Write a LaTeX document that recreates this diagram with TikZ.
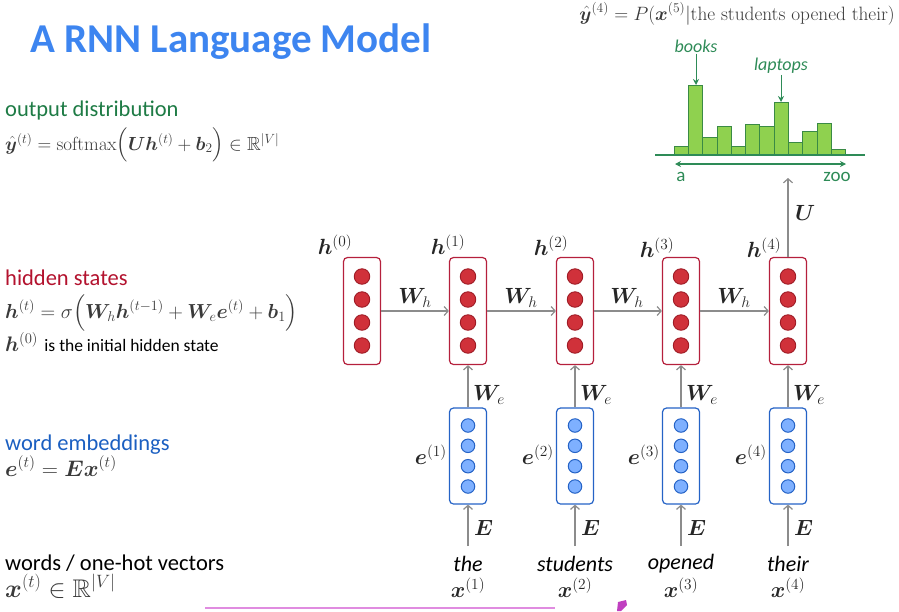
\RequirePackage{fix-cm}
\documentclass[tikz,border=0pt]{standalone}
\usepackage{amsmath,amssymb,bm}
\usepackage[no-math]{fontspec}
\newfontfamily\calib{Carlito}
\usetikzlibrary{arrows.meta}
\definecolor{titleblue}{HTML}{3D85F0}
\definecolor{txtgreen}{HTML}{1E7B45}
\definecolor{txtred}{HTML}{B3122E}
\definecolor{txtblue}{HTML}{1B5FC1}
\definecolor{mathgray}{HTML}{3A3A3A}
\definecolor{hred}{HTML}{B5203C}
\definecolor{hfill}{HTML}{D0313A}
\definecolor{hdk}{HTML}{9E1B25}
\definecolor{eblue}{HTML}{2563C6}
\definecolor{efill}{HTML}{7EB0FF}
\definecolor{arrgray}{HTML}{8C8C8C}
\definecolor{bardk}{HTML}{3A8A45}
\definecolor{barfill}{HTML}{8FD14F}
\definecolor{histgreen}{HTML}{2E8B57}
\definecolor{pinkline}{HTML}{E08CE0}
\definecolor{magmark}{HTML}{C040C0}
\begin{document}
\begin{tikzpicture}[x=1pt,y=-1pt,
 hbox/.style={draw=hred, line width=1.2pt, rounded corners=4pt, minimum width=37pt, minimum height=107pt, inner sep=0pt},
 ebox/.style={draw=eblue, line width=1.2pt, rounded corners=4pt, minimum width=37pt, minimum height=96pt, inner sep=0pt},
 hdot/.style={circle, draw=hdk, fill=hfill, line width=0.9pt, minimum size=15.5pt, inner sep=0pt},
 edot/.style={circle, draw=eblue, fill=efill, line width=1pt, minimum size=13.5pt, inner sep=0pt},
 conn/.style={draw=arrgray, line width=1.2pt, -{Straight Barb[length=4pt,width=9pt]}},
 bar/.style={draw=bardk, fill=barfill, line width=0.8pt},
 lbl/.style={inner sep=0pt, text=black!85, font=\fontsize{22}{26}\selectfont},
 mtxt/.style={inner sep=0pt, text=mathgray},
 word/.style={inner sep=0pt, font=\calib\itshape\fontsize{22}{26}\selectfont},
 gtxt/.style={inner sep=0pt, text=histgreen},
 head/.style={anchor=base west, inner sep=0pt, font=\calib\fontsize{22.5}{27}\selectfont},
 ]
\useasboundingbox (0,0) rectangle (899,611);

% ---------- left texts ----------
\node[anchor=base west, inner sep=0pt, text=titleblue, font=\calib\bfseries\fontsize{41}{46}\selectfont] (title) at (30,52) {A RNN Language Model};

\node[head, text=txtgreen] (outd) at (5,116) {output distribution};
\node[anchor=base west, mtxt, font=\fontsize{19}{22}\selectfont] (outf) at (5,150) {$\hat{\bm{y}}^{(t)} = \mathrm{softmax}\Big(\bm{U}\bm{h}^{(t)}+\bm{b}_2\Big)\in\mathbb{R}^{|V|}$};

\node[head, text=txtred] (hid) at (5,285) {hidden states};
\node[anchor=base west, mtxt, font=\fontsize{20.3}{24}\selectfont] (hidf) at (5,318) {$\bm{h}^{(t)} = \sigma\Big(\bm{W}_{h}\bm{h}^{(t-1)}+\bm{W}_{e}\bm{e}^{(t)}+\bm{b}_1\Big)$};
\node[anchor=base west, mtxt, font=\fontsize{21}{24}\selectfont] (hinit) at (5,351) {$\bm{h}^{(0)}$ {\calib\fontsize{17.5}{20}\selectfont\color{black} is the initial hidden state}};

\node[head, text=txtblue] (emb) at (5,450) {word embeddings};
\node[anchor=base west, mtxt, font=\fontsize{22.5}{26}\selectfont] (embf) at (5,476) {$\bm{e}^{(t)} = \bm{E}\bm{x}^{(t)}$};

\node[head, text=black] (wrd) at (5,570) {words / one-hot vectors};
\node[anchor=base west, mtxt, font=\fontsize{25.5}{30}\selectfont] (wrdf) at (5,597) {$\bm{x}^{(t)} \in\mathbb{R}^{|V|}$};

% ---------- top formula ----------
\node[anchor=base east, mtxt, font=\fontsize{19.3}{22}\selectfont] (topf) at (895,20) {$\hat{\bm{y}}^{(4)} = P(\bm{x}^{(5)}|\text{the students opened their})$};

% ---------- hidden boxes ----------
\foreach \i/\x in {0/362,1/468,2/575,3/681,4/788}{
  \node[hbox] (h\i) at (\x,311) {};
  \foreach \dy in {-34.5,-11.5,11.5,34.5}{
    \node[hdot] at (\x,311+\dy) {};
  }
}
% ---------- embedding boxes ----------
\foreach \i/\x in {1/468,2/575,3/681,4/788}{
  \node[ebox] (e\i) at (\x,456) {};
  \foreach \dy in {-30.5,-10.2,10.2,30.5}{
    \node[edot] at (\x,456+\dy) {};
  }
}

% ---------- labels of hidden boxes ----------
\node[lbl] (lh0) at (335,245) {$\bm{h}^{(0)}$};
\node[lbl] (lh1) at (448,245) {$\bm{h}^{(1)}$};
\node[lbl] (lh2) at (551,246) {$\bm{h}^{(2)}$};
\node[lbl] (lh3) at (657,248) {$\bm{h}^{(3)}$};
\node[lbl] (lh4) at (764,248) {$\bm{h}^{(4)}$};

% ---------- recurrent arrows ----------
\foreach \a/\b/\lx in {0/1/415,1/2/521,2/3/627,3/4/734}{
  \draw[conn] (h\a.east) -- (h\b.west);
  \node[lbl] (wh\a) at (\lx,298) {$\bm{W}_{h}$};
}

% ---------- embedding -> hidden, word -> embedding ----------
\foreach \i/\x/\w in {1/468/the,2/575/students,3/681/opened,4/788/their}{
  \draw[conn] (e\i.north) -- (h\i.south);
  \node[lbl, anchor=west] (we\i) at (\x+5,395) {$\bm{W}_{e}$};
  \coordinate (s\i) at (\x,546);
  \draw[conn] (s\i) -- (e\i.south);
  \node[lbl, anchor=west] (E\i) at (\x+6,528) {$\bm{E}$};
  \node[lbl, anchor=east] (le\i) at (\x-21,455) {$\bm{e}^{(\i)}$};
  \node[word] (w\i) at (\x,564) {\w};
  \node[lbl] (x\i) at (\x,588) {$\bm{x}^{(\i)}$};
}

% ---------- output arrow ----------
\coordinate (ytop) at (788,178);
\draw[conn] (h4.north) -- (ytop);
\node[lbl, anchor=west] (Ul) at (795,213) {$\bm{U}$};

% ---------- histogram ----------
\foreach \k/\hgt in {0/9,1/69.7,2/17.7,3/28.3,4/9,5/30.7,6/28.3,7/52.7,8/12.3,9/23.3,10/31.7,11/5.7}{
  \draw[bar] (674+14.3*\k,155) rectangle (674+14.3*\k+14.3,155-\hgt);
}
\draw[histgreen, line width=1.3pt] (655,155) -- (865,155);
\coordinate (ha) at (675,164);
\coordinate (hz) at (846,164);
\draw[histgreen, line width=1.3pt, {Stealth[length=6pt,width=6pt]}-{Stealth[length=6pt,width=6pt]}] (ha) -- (hz);
\node[gtxt, font=\calib\fontsize{19}{22}\selectfont] (la) at (681,177) {a};
\node[gtxt, font=\calib\fontsize{19}{22}\selectfont] (lz) at (837,177) {zoo};

\node[gtxt, font=\calib\itshape\fontsize{18}{21}\selectfont] (books) at (696,46) {books};
\coordinate (bk) at (696,85);
\draw[histgreen, line width=1pt, -{Stealth[length=6pt,width=6pt]}] (books.south) ++(0,1) -- (bk);
\node[gtxt, font=\calib\itshape\fontsize{18}{21}\selectfont] (laps) at (781,66) {laptops};
\coordinate (lp) at (781,102);
\draw[histgreen, line width=1pt, -{Stealth[length=6pt,width=6pt]}] (laps.south) ++(0,1) -- (lp);

% ---------- bottom artifacts ----------
\draw[pinkline, line width=1.2pt] (205,608) -- (555,608);
\fill[magmark] (618,602) -- (626,600) -- (627,605) -- (621,611) -- (617,611) -- cycle;
\end{tikzpicture}
\end{document}
